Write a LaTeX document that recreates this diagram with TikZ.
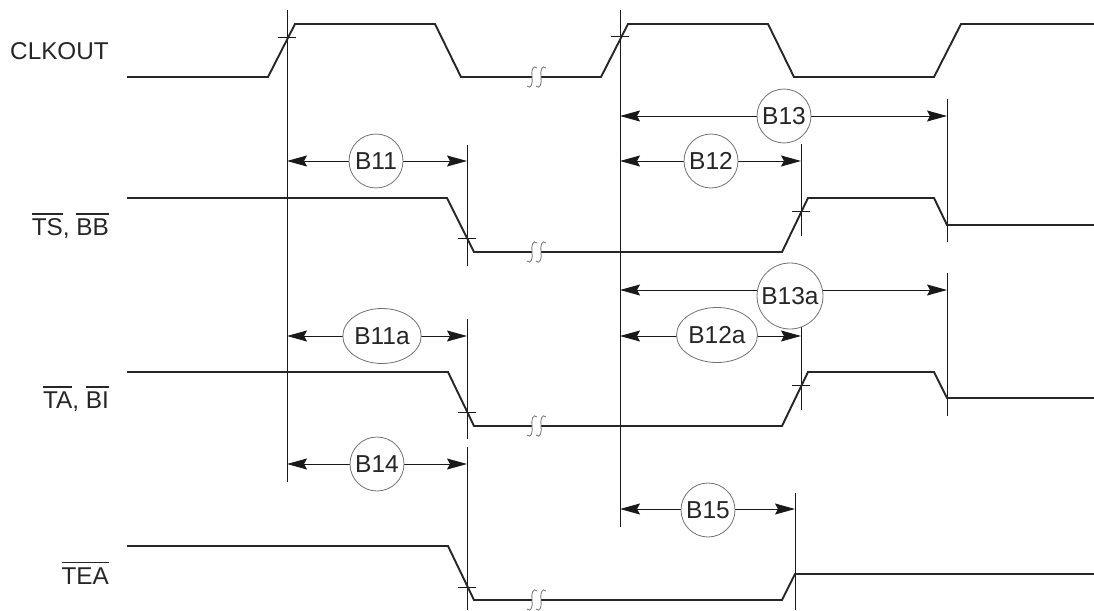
\documentclass[tikz,border=0pt]{standalone}
\usepackage{fontspec}
\setmainfont{Liberation Sans}
\usetikzlibrary{arrows.meta,shapes.geometric}
\newcommand{\ovl}[1]{\setbox0\hbox{#1}\rlap{\raisebox{21pt}{\rule{\wd0}{1.6pt}}}\box0}
\newcommand{\brkmark}[2]{%
  \draw[brkline] ({#1+5},{#2-9}) .. controls ({#1+1},{#2-13}) and ({#1-1},{#2-6}) .. ({#1},{#2})
     .. controls ({#1+1},{#2+6}) and ({#1-1},{#2+13}) .. ({#1-5},{#2+9});}
\begin{document}
\begin{tikzpicture}[x=1pt,y=-1pt,
  sig/.style={line width=1.9pt, draw=black!85, line join=miter},
  refline/.style={line width=1pt, draw=black!90},
  dim/.style={line width=1pt, draw=black!90,
    {Stealth[length=20pt,width=11pt,inset=3pt]}-{Stealth[length=20pt,width=11pt,inset=3pt]}},
  tag/.style={circle, draw=black!55, line width=0.8pt, fill=white, inner sep=0pt,
    minimum size=54pt, font=\fontsize{24.5}{24.5}\selectfont, text=black!85},
  tagwide/.style={ellipse, draw=black!55, line width=0.8pt, fill=white, inner sep=0pt,
    minimum width=64pt, minimum height=55pt, font=\fontsize{24.5}{24.5}\selectfont, text=black!85},
  sname/.style={anchor=east, inner sep=0pt, font=\fontsize{24.3}{24.3}\selectfont, text=black!85},
  brkline/.style={draw=black!55, line width=0.8pt},
]
\useasboundingbox (0,0) rectangle (1094,610);

% signal names
\node[sname] (nclk) at (109,51) {CLKOUT};
\node[sname] (nts)  at (109,226) {\ovl{TS}, \ovl{BB}};
\node[sname] (nta)  at (109,399) {\ovl{TA}, \ovl{BI}};
\node[sname] (ntea) at (109,573) {\ovl{TEA}};

% reference verticals
\draw[refline] (287,10) -- (287,482);
\draw[refline] (620,10) -- (620,527);
\draw[refline] (467,145) -- (467,266);
\draw[refline] (467,319) -- (467,439);
\draw[refline] (467,447) -- (467,610);
\draw[refline] (801,144) -- (801,236);
\draw[refline] (801,319) -- (801,410);
\draw[refline] (947,99) -- (947,242);
\draw[refline] (947,273) -- (947,416);
\draw[refline] (795,493) -- (795,610);

% ticks
\draw[refline] (278,38) -- (296,38);
\draw[refline] (611,37) -- (629,37);
\draw[refline] (458,238) -- (476,238);
\draw[refline] (792,211) -- (810,211);
\draw[refline] (458,412) -- (476,412);
\draw[refline] (792,385) -- (810,385);
\draw[refline] (458,587) -- (476,587);

% waveforms
\draw[sig] (127,77) -- (268,77) -- (295,24) -- (435,24) -- (461,77) -- (532,77);
\draw[sig] (541,77) -- (601,77) -- (628,24) -- (768,24) -- (794,77) -- (934,77) -- (961,24) -- (1094,24);
\brkmark{532}{77}\brkmark{541}{77}

\draw[sig] (127,198) -- (447,198) -- (474,252) -- (532,252);
\draw[sig] (541,252) -- (782,252) -- (808,198) -- (934,198) -- (947,225) -- (1094,225);
\brkmark{532}{252}\brkmark{541}{252}

\draw[sig] (127,372) -- (448,372) -- (474,426) -- (532,426);
\draw[sig] (541,426) -- (782,426) -- (808,372) -- (934,372) -- (947,398) -- (1094,398);
\brkmark{532}{426}\brkmark{541}{426}

\draw[sig] (127,546) -- (448,546) -- (474,600) -- (532,600);
\draw[sig] (541,600) -- (782,600) -- (795,574) -- (1094,574);
\brkmark{532}{600}\brkmark{541}{600}

% dimension end points
\coordinate (a11l) at (287,161);  \coordinate (a11r) at (467,161);
\coordinate (a12l) at (620,161);  \coordinate (a12r) at (801,161);
\coordinate (a13l) at (620,116);  \coordinate (a13r) at (947,116);
\coordinate (a11al) at (287,336); \coordinate (a11ar) at (467,336);
\coordinate (a12al) at (620,336); \coordinate (a12ar) at (801,336);
\coordinate (a13al) at (620,290); \coordinate (a13ar) at (947,290);
\coordinate (a14l) at (287,464);  \coordinate (a14r) at (467,464);
\coordinate (a15l) at (620,509);  \coordinate (a15r) at (795,509);

\draw[dim] (a11l) -- (a11r);
\draw[dim] (a12l) -- (a12r);
\draw[dim] (a13l) -- (a13r);
\draw[dim] (a11al) -- (a11ar);
\draw[dim] (a12al) -- (a12ar);
\draw[dim] (a13al) -- (a13ar);
\draw[dim] (a14l) -- (a14r);
\draw[dim] (a15l) -- (a15r);

% labels
\node[tag] (b11) at (376,161) {B11};
\node[tag] (b12) at (711,161) {B12};
\node[tag] (b13) at (784,116) {B13};
\node[tagwide] (b11a) at (382,336) {B11a};
\node[tagwide] (b12a) at (717,335) {B12a};
\node[tag, minimum size=66pt] (b13a) at (790,296) {B13a};
\node[tag] (b14) at (377,464) {B14};
\node[tag] (b15) at (708,510) {B15};
\end{tikzpicture}
\end{document}
